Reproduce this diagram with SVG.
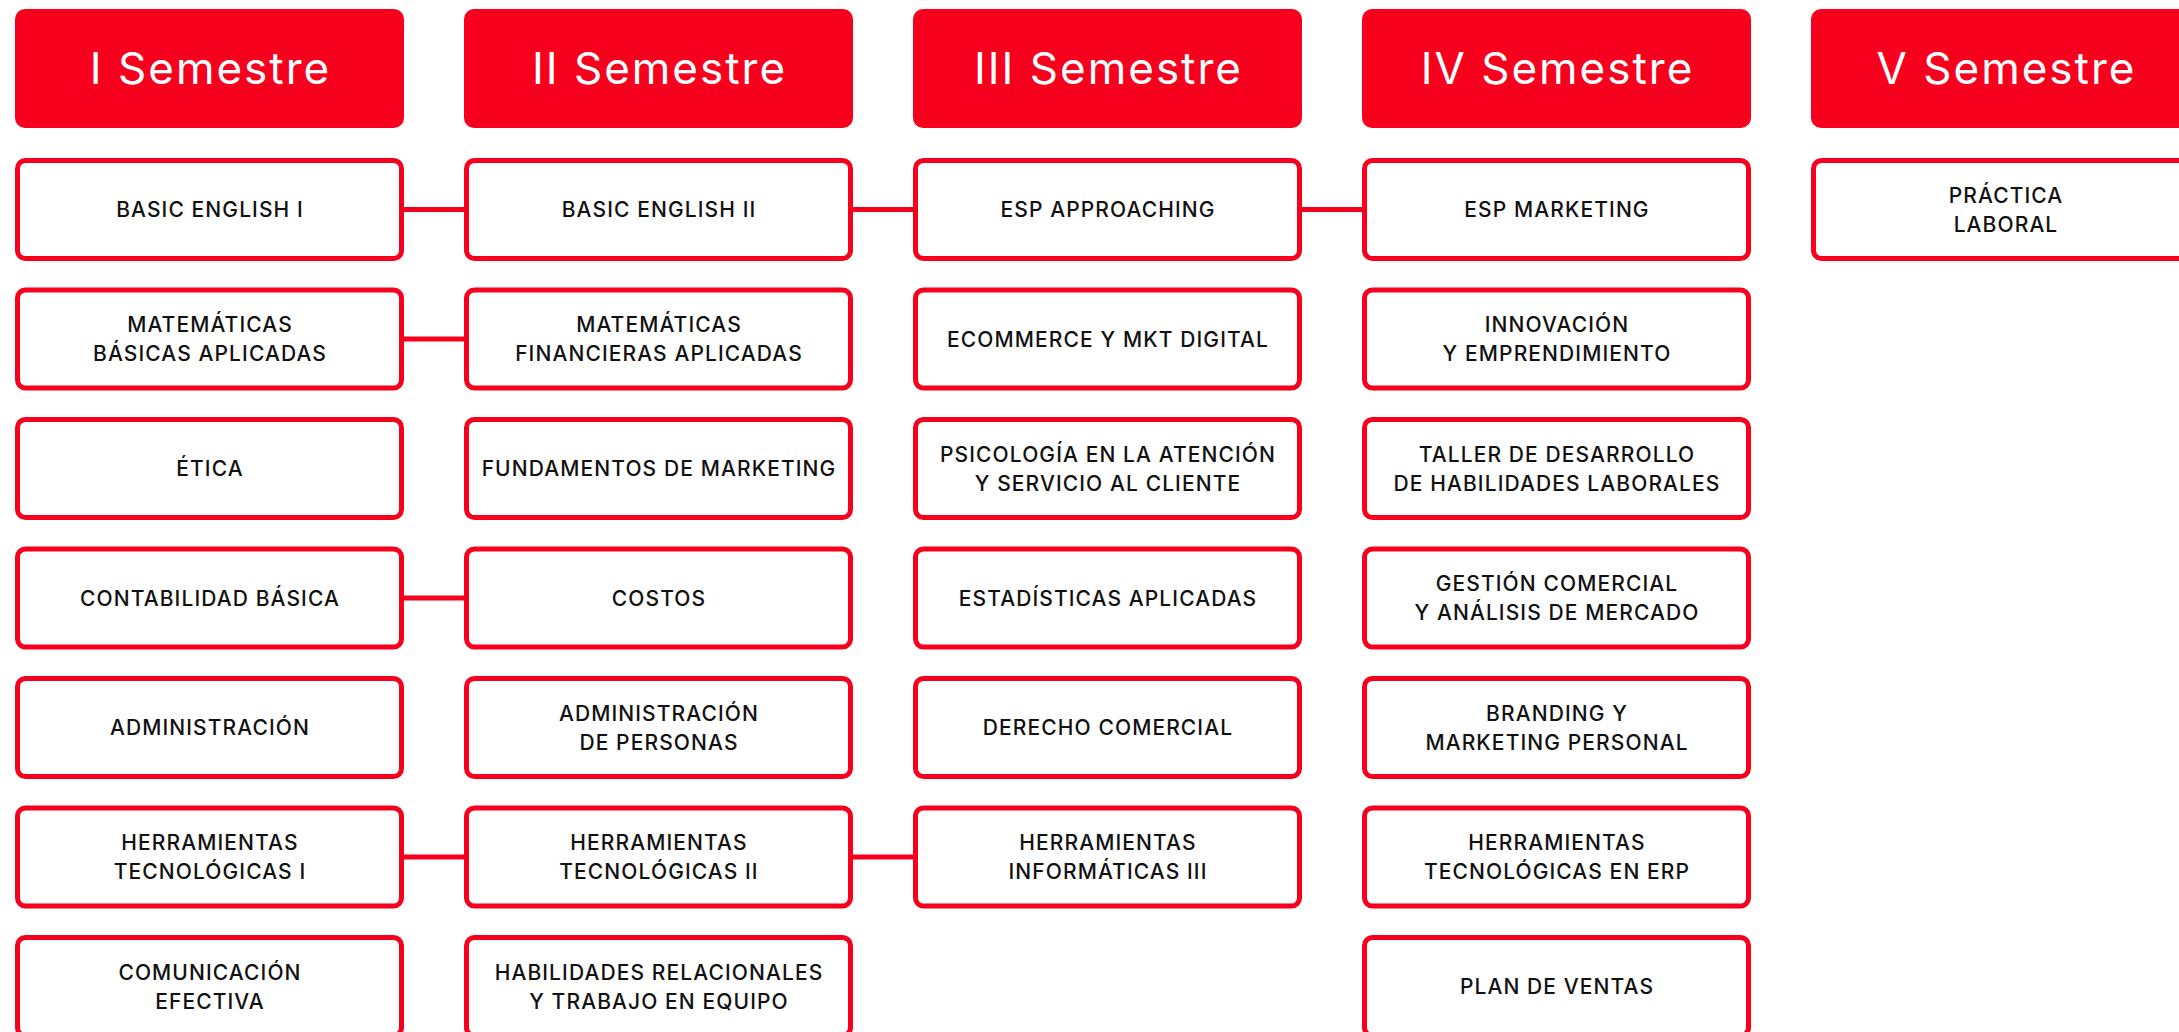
<svg xmlns="http://www.w3.org/2000/svg" width="2179" height="1032" viewBox="0 0 2179 1032">
<style>
.hdr{fill:#F6001E}
.hdr-t{font-family:Inter,"Open Sans",sans-serif;font-size:44px;letter-spacing:2px;fill:#fff;text-anchor:middle}
.box{fill:#fff;stroke:#F6001E;stroke-width:5}
.t{font-family:Inter,"Open Sans",sans-serif;font-size:21px;letter-spacing:1.1px;font-weight:500;fill:#111;text-anchor:middle}
.con line{stroke:#F6001E;stroke-width:5}
</style>
<rect width="2179" height="1032" fill="#fff"/>
<g id="headers">
<g id="h1"><rect class="hdr" x="15" y="9" width="389" height="119" rx="10"/><text class="hdr-t" x="210.5" y="84">I Semestre</text></g>
<g id="h2"><rect class="hdr" x="464" y="9" width="389" height="119" rx="10"/><text class="hdr-t" x="659.5" y="84">II Semestre</text></g>
<g id="h3"><rect class="hdr" x="913" y="9" width="389" height="119" rx="10"/><text class="hdr-t" x="1108.5" y="84">III Semestre</text></g>
<g id="h4"><rect class="hdr" x="1362" y="9" width="389" height="119" rx="10"/><text class="hdr-t" x="1557.5" y="84">IV Semestre</text></g>
<g id="h5"><rect class="hdr" x="1811" y="9" width="389" height="119" rx="10"/><text class="hdr-t" x="2006.5" y="84">V Semestre</text></g>
</g>
<g id="connectors" class="con">
<line x1="404" y1="209.5" x2="464" y2="209.5"/>
<line x1="853" y1="209.5" x2="913" y2="209.5"/>
<line x1="1302" y1="209.5" x2="1362" y2="209.5"/>
<line x1="404" y1="339" x2="464" y2="339"/>
<line x1="404" y1="598" x2="464" y2="598"/>
<line x1="404" y1="857" x2="464" y2="857"/>
<line x1="853" y1="857" x2="913" y2="857"/>
</g>
<!-- Column 1 -->
<g id="c1r1"><rect class="box" x="17.5" y="160.5" width="384" height="98" rx="8"/><text class="t" x="210" y="217">BASIC ENGLISH I</text></g>
<g id="c1r2"><rect class="box" x="17.5" y="290" width="384" height="98" rx="8"/><text class="t" x="210" y="332">MATEMÁTICAS</text><text class="t" x="210" y="361">BÁSICAS APLICADAS</text></g>
<g id="c1r3"><rect class="box" x="17.5" y="419.5" width="384" height="98" rx="8"/><text class="t" x="210" y="476">ÉTICA</text></g>
<g id="c1r4"><rect class="box" x="17.5" y="549" width="384" height="98" rx="8"/><text class="t" x="210" y="605.5">CONTABILIDAD BÁSICA</text></g>
<g id="c1r5"><rect class="box" x="17.5" y="678.5" width="384" height="98" rx="8"/><text class="t" x="210" y="735">ADMINISTRACIÓN</text></g>
<g id="c1r6"><rect class="box" x="17.5" y="808" width="384" height="98" rx="8"/><text class="t" x="210" y="850">HERRAMIENTAS</text><text class="t" x="210" y="879">TECNOLÓGICAS I</text></g>
<g id="c1r7"><rect class="box" x="17.5" y="937.5" width="384" height="98" rx="8"/><text class="t" x="210" y="979.5">COMUNICACIÓN</text><text class="t" x="210" y="1008.5">EFECTIVA</text></g>
<!-- Column 2 -->
<g id="c2r1"><rect class="box" x="466.5" y="160.5" width="384" height="98" rx="8"/><text class="t" x="659" y="217">BASIC ENGLISH II</text></g>
<g id="c2r2"><rect class="box" x="466.5" y="290" width="384" height="98" rx="8"/><text class="t" x="659" y="332">MATEMÁTICAS</text><text class="t" x="659" y="361">FINANCIERAS APLICADAS</text></g>
<g id="c2r3"><rect class="box" x="466.5" y="419.5" width="384" height="98" rx="8"/><text class="t" x="659" y="476">FUNDAMENTOS DE MARKETING</text></g>
<g id="c2r4"><rect class="box" x="466.5" y="549" width="384" height="98" rx="8"/><text class="t" x="659" y="605.5">COSTOS</text></g>
<g id="c2r5"><rect class="box" x="466.5" y="678.5" width="384" height="98" rx="8"/><text class="t" x="659" y="720.5">ADMINISTRACIÓN</text><text class="t" x="659" y="749.5">DE PERSONAS</text></g>
<g id="c2r6"><rect class="box" x="466.5" y="808" width="384" height="98" rx="8"/><text class="t" x="659" y="850">HERRAMIENTAS</text><text class="t" x="659" y="879">TECNOLÓGICAS II</text></g>
<g id="c2r7"><rect class="box" x="466.5" y="937.5" width="384" height="98" rx="8"/><text class="t" x="659" y="979.5">HABILIDADES RELACIONALES</text><text class="t" x="659" y="1008.5">Y TRABAJO EN EQUIPO</text></g>
<!-- Column 3 -->
<g id="c3r1"><rect class="box" x="915.5" y="160.5" width="384" height="98" rx="8"/><text class="t" x="1108" y="217">ESP APPROACHING</text></g>
<g id="c3r2"><rect class="box" x="915.5" y="290" width="384" height="98" rx="8"/><text class="t" x="1108" y="346.5">ECOMMERCE Y MKT DIGITAL</text></g>
<g id="c3r3"><rect class="box" x="915.5" y="419.5" width="384" height="98" rx="8"/><text class="t" x="1108" y="461.5">PSICOLOGÍA EN LA ATENCIÓN</text><text class="t" x="1108" y="490.5">Y SERVICIO AL CLIENTE</text></g>
<g id="c3r4"><rect class="box" x="915.5" y="549" width="384" height="98" rx="8"/><text class="t" x="1108" y="605.5">ESTADÍSTICAS APLICADAS</text></g>
<g id="c3r5"><rect class="box" x="915.5" y="678.5" width="384" height="98" rx="8"/><text class="t" x="1108" y="735">DERECHO COMERCIAL</text></g>
<g id="c3r6"><rect class="box" x="915.5" y="808" width="384" height="98" rx="8"/><text class="t" x="1108" y="850">HERRAMIENTAS</text><text class="t" x="1108" y="879">INFORMÁTICAS III</text></g>
<!-- Column 4 -->
<g id="c4r1"><rect class="box" x="1364.5" y="160.5" width="384" height="98" rx="8"/><text class="t" x="1557" y="217">ESP MARKETING</text></g>
<g id="c4r2"><rect class="box" x="1364.5" y="290" width="384" height="98" rx="8"/><text class="t" x="1557" y="332">INNOVACIÓN</text><text class="t" x="1557" y="361">Y EMPRENDIMIENTO</text></g>
<g id="c4r3"><rect class="box" x="1364.5" y="419.5" width="384" height="98" rx="8"/><text class="t" x="1557" y="461.5">TALLER DE DESARROLLO</text><text class="t" x="1557" y="490.5">DE HABILIDADES LABORALES</text></g>
<g id="c4r4"><rect class="box" x="1364.5" y="549" width="384" height="98" rx="8"/><text class="t" x="1557" y="591">GESTIÓN COMERCIAL</text><text class="t" x="1557" y="620">Y ANÁLISIS DE MERCADO</text></g>
<g id="c4r5"><rect class="box" x="1364.5" y="678.5" width="384" height="98" rx="8"/><text class="t" x="1557" y="720.5">BRANDING Y</text><text class="t" x="1557" y="749.5">MARKETING PERSONAL</text></g>
<g id="c4r6"><rect class="box" x="1364.5" y="808" width="384" height="98" rx="8"/><text class="t" x="1557" y="850">HERRAMIENTAS</text><text class="t" x="1557" y="879">TECNOLÓGICAS EN ERP</text></g>
<g id="c4r7"><rect class="box" x="1364.5" y="937.5" width="384" height="98" rx="8"/><text class="t" x="1557" y="994">PLAN DE VENTAS</text></g>
<!-- Column 5 -->
<g id="c5r1"><rect class="box" x="1813.5" y="160.5" width="384" height="98" rx="8"/><text class="t" x="2006" y="203">PRÁCTICA</text><text class="t" x="2006" y="232">LABORAL</text></g>
</svg>
